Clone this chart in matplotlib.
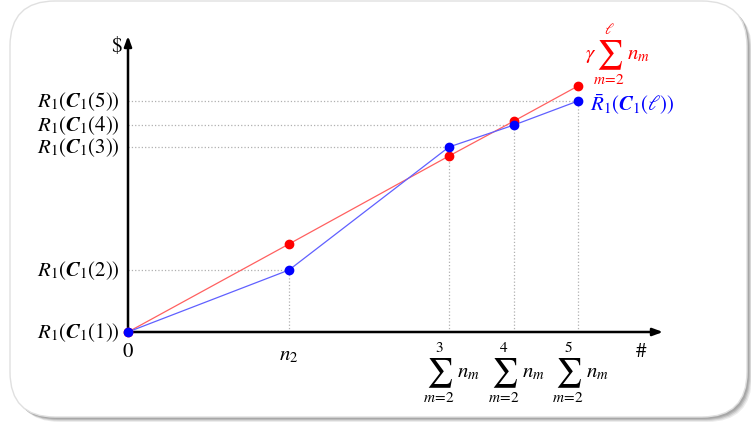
import matplotlib
matplotlib.use("Agg")
import matplotlib.pyplot as plt
from matplotlib.patches import FancyBboxPatch

plt.rcParams['mathtext.fontset'] = 'stix'
plt.rcParams['font.family'] = ['STIXGeneral', 'DejaVu Serif']

# data (abstract units: cumulative count vs value)
x_pos = [0, 161, 321, 386, 450]
blue_vals = [0, 62, 185, 207, 231]
red_vals = [0, 88, 176, 211, 246]
y_labels = [r'$R_1(\mathbfit{C}_1(%d))$' % k for k in range(1, 6)]
sum_uppers = ['3', '4', '5']

W, H = 751, 427
fig = plt.figure(figsize=(W/100, H/100), dpi=100)

# rounded frame with shadow
bg = fig.add_axes([0, 0, 1, 1])
bg.set_xlim(0, W); bg.set_ylim(H, 0); bg.axis('off')
for off, a in [(5, 0.15), (4, 0.2), (3, 0.3), (2, 0.35)]:
    bg.add_patch(FancyBboxPatch((10 + off, 2 + off), 737, 416, boxstyle="round,pad=0,rounding_size=45",
                                fc='#808080', ec='none', alpha=a))
bg.add_patch(FancyBboxPatch((10, 2), 737, 416, boxstyle="round,pad=0,rounding_size=45",
                            fc='white', ec='#e0e0e0', lw=1))

ox, oy = 128, 333
xmax_px, ytop_px = 663, 37
ax = fig.add_axes([ox/W, (H-oy)/H, (xmax_px-ox)/W, (oy-ytop_px)/H])
ax.set_xlim(0, xmax_px-ox)
ax.set_ylim(0, oy-ytop_px)
ax.axis('off')
ax.patch.set_alpha(0)

# axes arrows
arw = dict(arrowstyle='-|>,head_length=0.6,head_width=0.22', lw=1.8, color='black', shrinkA=0, shrinkB=0)
ax.annotate('', xy=(xmax_px-ox, 0), xytext=(0, 0), arrowprops=arw, annotation_clip=False)
ax.annotate('', xy=(0, oy-ytop_px), xytext=(0, 0), arrowprops=arw, annotation_clip=False)

# guide lines
for i in range(1, 5):
    xi = x_pos[i]
    ax.plot([xi, xi], [0, blue_vals[i]], ls=':', color='#b0b0b0', lw=0.9)
    ax.plot([0, xi], [blue_vals[i], blue_vals[i]], ls=':', color='#b0b0b0', lw=0.9)

# series
ax.plot(x_pos, red_vals, color='#ff6060', lw=0.9, zorder=3)
ax.plot(x_pos, blue_vals, color='#6060ff', lw=0.9, zorder=3)
ax.plot(x_pos, red_vals, 'o', color='red', ms=6, zorder=4, clip_on=False)
ax.plot(x_pos, blue_vals, 'o', color='blue', ms=6, zorder=5, clip_on=False)

FS = 15

# y labels
for lab, yv in zip(y_labels, blue_vals):
    ax.text(-8, yv, lab, ha='right', va='center', fontsize=FS)

def draw_sum(x, y, upper, color='black'):
    """Display-style sum centred at data (x, y)."""
    ax.text(x, y, r'$\sum$', ha='center', va='center', fontsize=21, color=color)
    ax.text(x, y + 25, r'$' + upper + '$', ha='center', va='center', fontsize=11, color=color)
    ax.text(x, y - 25, r'$m\!=\!2$', ha='center', va='center', fontsize=11, color=color)
    ax.text(x + 18, y + 1, r'$n_m$', ha='left', va='center', fontsize=FS, color=color)

# x labels
ax.text(0, -19, '0', ha='center', va='center', fontsize=FS)
ax.text(x_pos[1], -22, r'$n_2$', ha='center', va='center', fontsize=FS)
for i, up in zip(range(2, 5), sum_uppers):
    draw_sum(x_pos[i] - 10, -40, up)

ax.text(-12, 286, r'\$', ha='center', va='center', fontsize=FS)
ax.text(513, -19, '#', ha='center', va='center', fontsize=FS)

# series labels
ax.text(x_pos[4] + 7, 278, r'$\gamma$', ha='left', va='center', fontsize=FS, color='red')
draw_sum(x_pos[4] + 31, 278, r'\ell', color='red')
ax.text(x_pos[4] + 12, blue_vals[4] - 3, r'$\bar{R}_1(\mathbfit{C}_1(\ell))$', ha='left', va='center',
        fontsize=FS, color='blue')

fig.savefig('out.png', dpi=100)
